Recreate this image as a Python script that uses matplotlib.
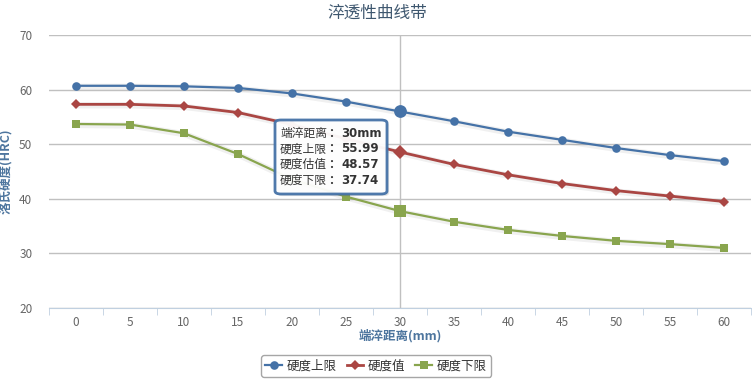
import matplotlib
matplotlib.use("Agg")
import matplotlib.pyplot as plt
from matplotlib.patches import FancyBboxPatch
import matplotlib.patheffects as pe

plt.rcParams['font.family'] = ['Noto Sans CJK SC', 'DejaVu Sans']

title = "淬透性曲线带"
x_title = "端淬距离(mm)"
y_title = "洛氏硬度(HRC)"
distances = [0, 5, 10, 15, 20, 25, 30, 35, 40, 45, 50, 55, 60]
upper = [60.7, 60.7, 60.6, 60.3, 59.3, 57.8, 55.99, 54.2, 52.3, 50.8, 49.3, 48.0, 46.9]
estimate = [57.3, 57.3, 57.0, 55.8, 53.6, 51.0, 48.57, 46.3, 44.4, 42.8, 41.5, 40.5, 39.5]
lower = [53.7, 53.6, 52.0, 48.2, 43.6, 40.4, 37.74, 35.8, 34.3, 33.2, 32.3, 31.7, 31.0]
series_names = ["硬度上限", "硬度值", "硬度下限"]
hover_index = 6
tooltip_labels = ["端淬距离", "硬度上限", "硬度估值", "硬度下限"]

W, H = 752, 383
fig = plt.figure(figsize=(W / 100, H / 100), dpi=100)
ax = fig.add_axes([49 / W, (H - 308) / H, 702 / W, 273 / H])

xs = list(range(len(distances)))
colors = ["#4572A7", "#AA4643", "#89A54E"]
markers = ["o", "D", "s"]
msizes = [6.2, 4.6, 6.2]
lws = [1.6, 2.0, 1.6]
data = [upper, estimate, lower]
handles = []
shadow_tr = ax.transData + matplotlib.transforms.ScaledTranslation(1 / 100, -1 / 100, fig.dpi_scale_trans)
for vals, c, m, ms, lw, name in zip(data, colors, markers, msizes, lws, series_names):
    ax.plot(xs, vals, color="black", alpha=0.06, lw=4.5, zorder=2, transform=shadow_tr)
    h, = ax.plot(xs, vals, color=c, lw=lw, marker=m, markersize=ms,
                 markeredgewidth=0, zorder=3, label=name)
    ax.plot([xs[hover_index]], [vals[hover_index]], color=c, marker=m,
            markersize=ms + 3, markeredgewidth=0, zorder=4)
    handles.append(h)

# crosshair
ax.axvline(hover_index, color="#C0C0C0", lw=1, zorder=1)

ax.set_xlim(-0.5, len(distances) - 0.5)
ax.set_ylim(20, 70)
ax.set_yticks([20, 30, 40, 50, 60, 70])
ax.set_xticks(xs)
ax.set_xticklabels([str(d) for d in distances])
ax.set_xticks([i - 0.5 for i in range(len(distances) + 1)], minor=True)
ax.grid(axis="y", color="#C0C0C0", lw=1)
ax.set_axisbelow(True)
for s in ["top", "right", "left"]:
    ax.spines[s].set_visible(False)
ax.spines["bottom"].set_color("#C0D0E0")
ax.tick_params(axis="x", which="major", length=0, labelsize=8.5, colors="#666666", pad=6)
ax.tick_params(axis="x", which="minor", length=5, color="#C0D0E0")
ax.tick_params(axis="y", length=0, labelsize=8.5, colors="#666666", pad=12)

ax.set_xlabel(x_title, color="#4D759E", fontsize=9, fontweight="bold", labelpad=0)
ax.set_ylabel(y_title, color="#4D759E", fontsize=9, fontweight="bold", labelpad=4)
fig.text(377 / W, 1 - 13 / H, title, ha="center", va="center", fontsize=12, color="#3E576F")

# tooltip
bx0, by0, bx1, by1 = 275, 120, 387, 194
box = FancyBboxPatch((bx0 / W, 1 - by1 / H), (bx1 - bx0) / W, (by1 - by0) / H,
                     boxstyle="round,pad=0,rounding_size=0.008",
                     transform=fig.transFigure, facecolor="white", edgecolor="#4572A7",
                     lw=2, alpha=0.95, zorder=10,
                     path_effects=[pe.SimplePatchShadow(offset=(1.5, -1.5), alpha=0.15), pe.Normal()])
fig.add_artist(box)
values = [f"{distances[hover_index]}mm", f"{upper[hover_index]:.2f}",
          f"{estimate[hover_index]:.2f}", f"{lower[hover_index]:.2f}"]
for i, (lab, val) in enumerate(zip(tooltip_labels, values)):
    yy = 1 - (133 + i * 15.8) / H
    fig.text(280 / W, yy, lab, ha="left", va="center", fontsize=8.5, color="#333333", zorder=11)
    fig.text(334 / W, yy, "：", ha="center", va="center", fontsize=8.5, color="#333333",
             fontweight="bold", zorder=11)
    fig.text(341 / W, yy, val, ha="left", va="center", fontsize=8.5, color="#333333",
             fontweight="bold", family="DejaVu Sans", zorder=11)

leg = fig.legend(handles=handles, loc="center", bbox_to_anchor=(376 / W, 1 - 366 / H),
                 ncol=3, frameon=True, fontsize=9, handlelength=1.3, handletextpad=0.4,
                 columnspacing=0.8, borderpad=0.35, fancybox=True, labelcolor="#333333")
leg.get_frame().set_edgecolor("#909090")
leg.get_frame().set_linewidth(1)

fig.savefig("out.png", dpi=100)
